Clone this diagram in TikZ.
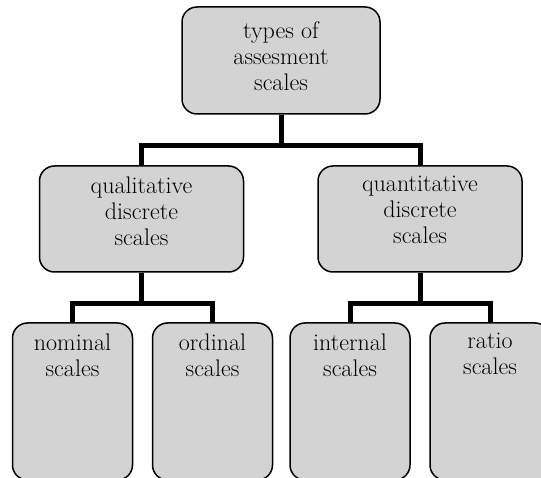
\documentclass[tikz,border=0pt]{standalone}
\usepackage{tikz}
\definecolor{boxgray}{RGB}{211,211,211}

\begin{document}
\begin{tikzpicture}[x=1pt,y=-1pt,
    scalebox/.style={draw,line width=1.5pt,fill=boxgray,rounded corners=15pt,inner sep=0pt},
    scaletext/.style={anchor=north,align=center,inner sep=0pt,yshift=-11pt,
      font=\fontsize{24}{26}\selectfont},
    branch/.style={line width=5pt}]
    \useasboundingbox (0,0) rectangle (541,478);
    \clip (0,0) rectangle (541,478);
    % top level
    \node [scalebox,minimum width=198pt,minimum height=107pt,
      label={[scaletext,yshift=-4pt]north:types of\\assesment\\scales}] (types) at (281,60.5) {};
    % middle level
    \node [scalebox,minimum width=204pt,minimum height=106pt,
      label={[scaletext]north:qualitative\\discrete\\scales}] (qual) at (141.5,219) {};
    \node [scalebox,minimum width=204pt,minimum height=106pt,
      label={[scaletext]north:quantitative\\discrete\\scales}] (quant) at (420,219) {};
    % bottom level
    \node [scalebox,minimum width=120pt,minimum height=157pt,
      label={[scaletext]north:nominal\\scales}] (nom) at (72.5,401.5) {};
    \node [scalebox,minimum width=120pt,minimum height=157pt,
      label={[scaletext]north:ordinal\\scales}] (ord) at (212.5,401.5) {};
    \node [scalebox,minimum width=120pt,minimum height=157pt,
      label={[scaletext]north:internal\\scales}] (int) at (350,401.5) {};
    \node [scalebox,minimum width=120pt,minimum height=157pt,
      label={[scaletext]north:ratio\\scales}] (rat) at (490,401.5) {};
    % connectors
    \draw [branch] (types.south) -- ++(0,31) coordinate (j1);
    \draw [branch] (qual.north) |- (j1) -| (quant.north);
    \draw [branch] (qual.south) -- ++(0,31) coordinate (j2);
    \draw [branch] (nom.north) |- (j2) -| (ord.north);
    \draw [branch] (quant.south) -- ++(0,31) coordinate (j3);
    \draw [branch] (int.north) |- (j3) -| (rat.north);
  \end{tikzpicture}
\end{document}
